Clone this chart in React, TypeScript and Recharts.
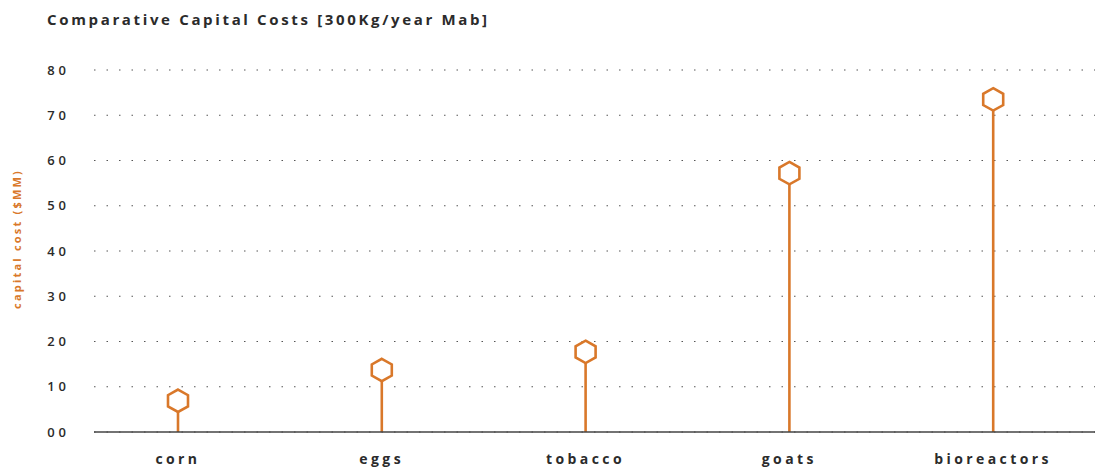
import { BarChart, Bar, XAxis, YAxis, CartesianGrid } from "recharts";

const categories = ["corn", "eggs", "tobacco", "goats", "bioreactors"];
const capitalCost = [6.9, 13.7, 17.7, 57.2, 73.5];
const yTicks = [0, 10, 20, 30, 40, 50, 60, 70, 80];

const data = categories.map((name, i) => ({ name, cost: capitalCost[i] }));

const ORANGE = "#d9782a";
const INK = "#2b2b2b";
const FONT = "'Open Sans', sans-serif";

// stem + hexagon marker
const Lollipop = (props: any) => {
  const { x, y, width, height } = props;
  const cx = x + width / 2;
  const hx = 10;
  const hy = 11.2;
  const pts = [
    [cx, y - hy],
    [cx + hx, y - hy / 2],
    [cx + hx, y + hy / 2],
    [cx, y + hy],
    [cx - hx, y + hy / 2],
    [cx - hx, y - hy / 2],
  ]
    .map((p) => p.join(","))
    .join(" ");
  return (
    <g>
      <line x1={cx} x2={cx} y1={y + hy} y2={y + height} stroke={ORANGE} strokeWidth={2.6} />
      <polygon points={pts} fill="#fff" stroke={ORANGE} strokeWidth={2.6} strokeLinejoin="miter" />
    </g>
  );
};

const App = () => (
  <div style={{ position: "absolute", left: 0, top: 0, width: 1095, height: 472, background: "#fff" }}>
    <div
      style={{
        position: "absolute",
        left: 47,
        top: 9,
        fontFamily: FONT,
        fontWeight: 700,
        fontSize: 15,
        letterSpacing: 2.65,
        color: INK,
        whiteSpace: "nowrap",
      }}
    >
      Comparative Capital Costs [300Kg/year Mab]
    </div>
    <div
      style={{
        position: "absolute",
        left: 16,
        top: 239,
        transform: "translate(-50%, -50%) rotate(-90deg)",
        fontFamily: FONT,
        fontWeight: 700,
        fontSize: 11,
        letterSpacing: 2.2,
        color: ORANGE,
        whiteSpace: "nowrap",
      }}
    >
      capital cost ($MM)
    </div>
    <BarChart
      width={1095}
      height={472}
      data={data}
      margin={{ top: 70, right: 0, left: 0, bottom: 0 }}
      barCategoryGap={0}
    >
      <CartesianGrid vertical={false} stroke="#555" strokeDasharray="1.5 11" />
      <XAxis
        dataKey="name"
        height={40}
        padding={{ left: -18, right: 0 }}
        axisLine={{ stroke: "#444", strokeWidth: 1.5 }}
        tickLine={false}
        tickSize={0}
        tickMargin={22}
        tick={{ fill: INK, fontFamily: FONT, fontWeight: 700, fontSize: 14, letterSpacing: 3.4 }}
      />
      <YAxis
        width={94}
        domain={[0, 80]}
        ticks={yTicks}
        interval={0}
        axisLine={false}
        tickLine={false}
        tickSize={0}
        tickMargin={24}
        tickFormatter={(v: number) => String(v).padStart(2, "0")}
        tick={{ fill: INK, fontFamily: FONT, fontWeight: 600, fontSize: 13, letterSpacing: 4 }}
      />
      <Bar dataKey="cost" shape={<Lollipop />} isAnimationActive={false} />
    </BarChart>
  </div>
);

export default App;
